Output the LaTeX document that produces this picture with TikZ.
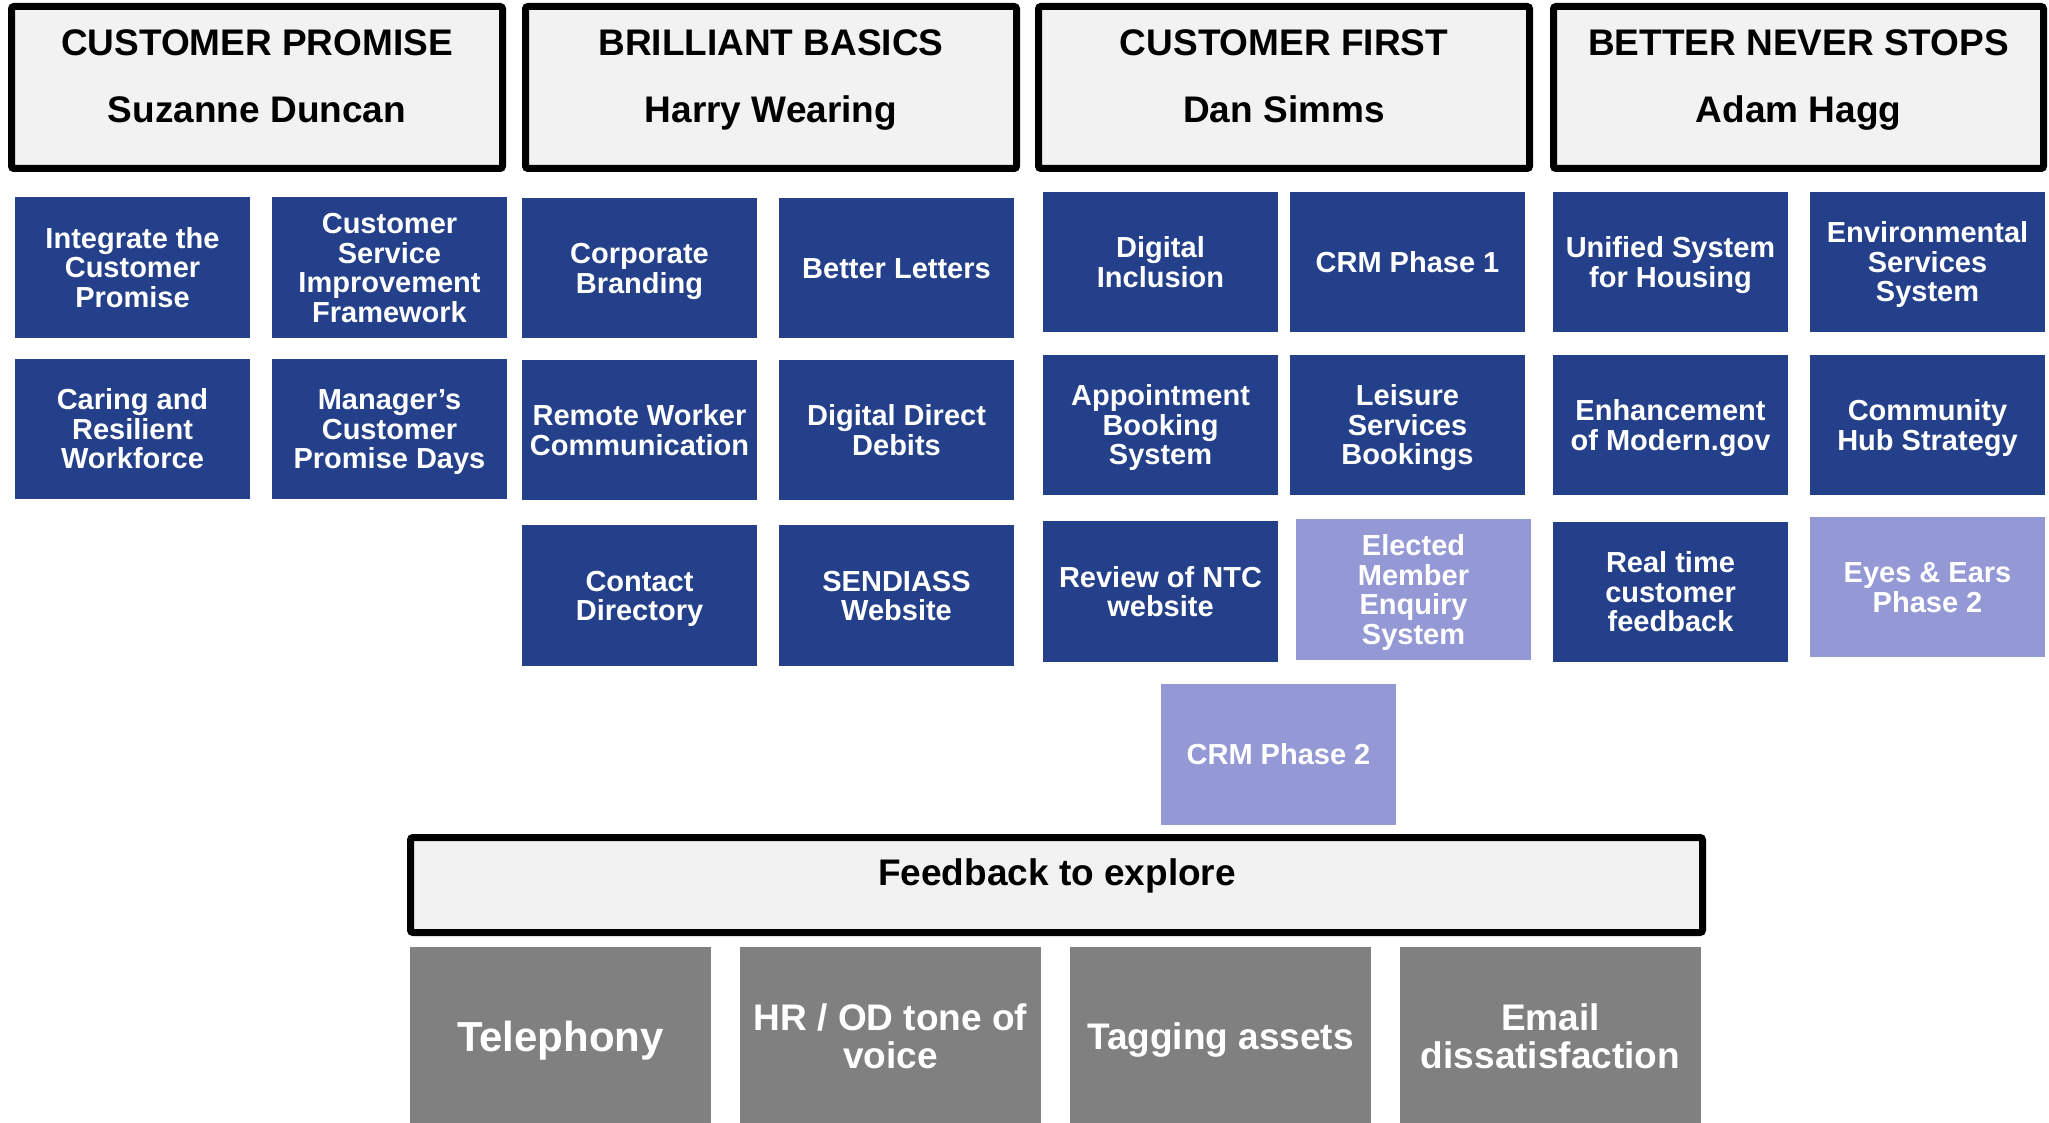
\documentclass[tikz,border=0pt]{standalone}
\usepackage{fontspec}
\setmainfont{Liberation Sans}
\definecolor{navy}{RGB}{36,64,138}
\definecolor{lilac}{RGB}{148,153,214}
\definecolor{headfill}{RGB}{242,242,242}
\definecolor{slate}{RGB}{128,128,128}
% fixed first-line height and last-line depth, so text is centred on its capitals
\newcommand\capcentre[3]{\rule{0pt}{#1}#3\rule[-#2]{0pt}{#2}}
\newcommand\tiletext[1]{\capcentre{28pt}{7.2pt}{#1}}
\newcommand\greytext[1]{\capcentre{35pt}{8.5pt}{#1}}
\tikzset{
  tile/.style={rectangle, inner sep=0pt, minimum width=235pt, minimum height=140pt,
    text=white, align=center, font=\bfseries\fontsize{29}{29.5}\selectfont},
  navytile/.style={tile, fill=navy},
  lilactile/.style={tile, fill=lilac},
  greytile/.style={rectangle, inner sep=0pt, minimum width=301pt, minimum height=178pt,
    fill=slate, text=white, align=center, font=\bfseries\fontsize{37}{38}\selectfont},
  headbox/.style={rectangle, draw=black, line width=7pt, fill=headfill, rounded corners=2.5pt,
    inner sep=0pt, minimum width=491pt, minimum height=162pt},
  headtext/.style={anchor=base, inner sep=0pt, font=\bfseries\fontsize{37}{40}\selectfont},
}
\begin{document}
\begin{tikzpicture}[x=1pt,y=-1pt]
\clip (0,0) rectangle (2049,1123);
\useasboundingbox (0,0) rectangle (2049,1123);

% theme headers
\node[headbox] (h1) at (257,87.5) {};
\node[headbox] (h2) at (771,87.5) {};
\node[headbox] (h3) at (1284,87.5) {};
\node[headbox, minimum width=490pt] (h4) at (1798.5,87.5) {};
\node[headtext] (h1t) at (257,56) {CUSTOMER PROMISE};
\node[headtext] (h1n) at (257,123) {Suzanne Duncan};
\node[headtext] (h2t) at (771,56) {BRILLIANT BASICS};
\node[headtext] (h2n) at (771,123) {Harry Wearing};
\node[headtext] (h3t) at (1284,56) {CUSTOMER FIRST};
\node[headtext] (h3n) at (1284,123) {Dan Simms};
\node[headtext] (h4t) at (1798.5,56) {BETTER NEVER STOPS};
\node[headtext] (h4n) at (1798.5,123) {Adam Hagg};

% Customer Promise projects
\node[navytile] (ic)   at (132.5,267.5) {\tiletext{Integrate the\\Customer\\Promise}};
\node[navytile] (csif) at (389.5,267.5) {\tiletext{Customer\\Service\\Improvement\\Framework}};
\node[navytile] (crw)  at (132.5,429) {\tiletext{Caring and\\Resilient\\Workforce}};
\node[navytile] (mcpd) at (389.5,429) {\tiletext{Manager’s\\Customer\\Promise Days}};

% Brilliant Basics projects
\node[navytile] (cb)   at (639.5,268) {\tiletext{Corporate\\Branding}};
\node[navytile] (bl)   at (896.5,268) {\tiletext{Better Letters}};
\node[navytile] (rwc)  at (639.5,430) {\tiletext{Remote Worker\\Communication}};
\node[navytile] (ddd)  at (896.5,430) {\tiletext{Digital Direct\\Debits}};
\node[navytile, minimum height=141pt] (cd) at (639.5,595.5) {\tiletext{Contact\\Directory}};
\node[navytile, minimum height=141pt] (sw) at (896.5,595.5) {\tiletext{SENDIASS\\Website}};

% Customer First projects
\node[navytile] (di)   at (1160.5,262) {\tiletext{Digital\\Inclusion}};
\node[navytile] (crm1) at (1407.5,262) {\tiletext{CRM Phase 1}};
\node[navytile] (abs)  at (1160.5,425) {\tiletext{Appointment\\Booking\\System}};
\node[navytile] (lsb)  at (1407.5,425) {\tiletext{Leisure\\Services\\Bookings}};
\node[navytile, minimum height=141pt] (ntc) at (1160.5,591.5) {\tiletext{Review of NTC\\website}};
\node[lilactile, minimum height=141pt] (em) at (1413.5,589.5) {\tiletext{Elected\\Member\\Enquiry\\System}};
\node[lilactile, minimum height=141pt] (crm2) at (1278.5,754.5) {\tiletext{CRM Phase 2}};

% Better Never Stops projects
\node[navytile] (ush)  at (1670.5,262) {\tiletext{Unified System\\for Housing}};
\node[navytile] (ess)  at (1927.5,262) {\tiletext{Environmental\\Services\\System}};
\node[navytile] (emg)  at (1670.5,425) {\tiletext{Enhancement\\of Modern.gov}};
\node[navytile] (chs)  at (1927.5,425) {\tiletext{Community\\Hub Strategy}};
\node[navytile] (rtf)  at (1670.5,592) {\tiletext{Real time\\customer\\feedback}};
\node[lilactile] (ee)  at (1927.5,587) {\tiletext{Eyes \& Ears\\Phase 2}};

% feedback band
\node[headbox, minimum width=1292pt, minimum height=95pt] (fb) at (1056.5,885) {};
\node[headtext] (fbt) at (1057,885) {Feedback to explore};
\node[greytile, font=\bfseries\fontsize{42}{44}\selectfont] (tel) at (560.5,1036)
  {\capcentre{40pt}{10pt}{Telephony}};
\node[greytile] (hr)    at (890.5,1036) {\greytext{HR / OD tone of\\voice}};
\node[greytile] (tag)   at (1220.5,1036) {\greytext{Tagging assets}};
\node[greytile] (email) at (1550.5,1036) {\greytext{Email\\dissatisfaction}};
\end{tikzpicture}
\end{document}
